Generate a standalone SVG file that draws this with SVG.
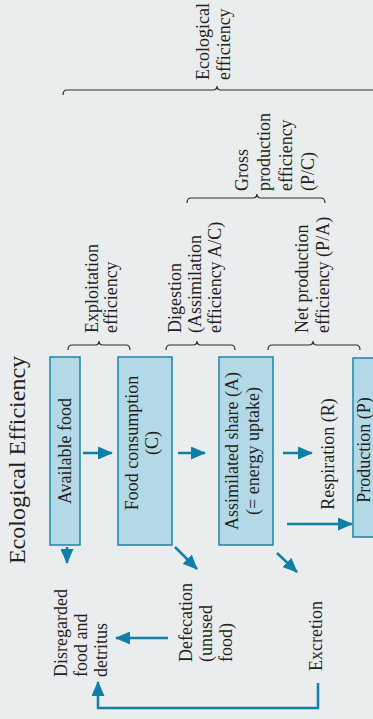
<svg xmlns="http://www.w3.org/2000/svg" width="373" height="719" viewBox="0 0 373 719">
<defs>
<style>
.t{font-family:"Liberation Serif","Times New Roman",serif;font-size:18px;fill:#231f20}
.title{font-family:"Liberation Serif","Times New Roman",serif;font-size:24px;fill:#231f20}
.box{fill:#b3d9e7;stroke:#1a86ad;stroke-width:1.5}
.arr{fill:none;stroke:#0f7fa6;stroke-width:2.5}
.br{fill:none;stroke:#2b2b2b;stroke-width:1.2}
</style>
<marker id="ah" markerUnits="userSpaceOnUse" markerWidth="15" markerHeight="13" refX="14" refY="6.5" orient="auto">
<path d="M0,0 L15,6.5 L0,13 z" fill="#0f7fa6"/>
</marker>
</defs>
<rect width="373" height="719" fill="#eaeded"/>
<text class="title" text-anchor="middle" transform="translate(25,460) rotate(-90)">Ecological Efficiency</text>

<g id="braces">
<path class="br" d="M63,95 Q63,90 67,90 L213,90 Q217,90 217,86 Q217,90 221,90 L380,90"/>
<path class="br" d="M187,203 Q187,198 191,198 L253,198 Q257,198 257,194 Q257,198 261,198 L321,198 Q325,198 325,203"/>
<path class="br" d="M68,350 Q68,345 72,345 L95,345 Q99,345 99,341 Q99,345 103,345 L126,345 Q130,345 130,350"/>
<path class="br" d="M166,350 Q166,345 170,345 L193,345 Q197,345 197,341 Q197,345 201,345 L231,345 Q235,345 235,350"/>
<path class="br" d="M268,350 Q268,345 272,345 L309,345 Q313,345 313,341 Q313,345 317,345 L356,345 Q360,345 360,350"/>
</g>

<g id="labels">
<text class="t" transform="translate(209,80) rotate(-90)">Ecological</text>
<text class="t" transform="translate(230,80) rotate(-90)">efficiency</text>
<text class="t" transform="translate(248,191) rotate(-90)">Gross</text>
<text class="t" transform="translate(270,191) rotate(-90)">production</text>
<text class="t" transform="translate(292,191) rotate(-90)">efficiency</text>
<text class="t" transform="translate(314,191) rotate(-90)">(P/C)</text>
<text class="t" transform="translate(98,333) rotate(-90)">Exploitation</text>
<text class="t" transform="translate(117,333) rotate(-90)">efficiency</text>
<text class="t" transform="translate(181,333) rotate(-90)">Digestion</text>
<text class="t" transform="translate(201,333) rotate(-90)">(Assimilation</text>
<text class="t" transform="translate(221,333) rotate(-90)">efficiency A/C)</text>
<text class="t" transform="translate(308,333) rotate(-90)">Net production</text>
<text class="t" transform="translate(329,333) rotate(-90)">efficiency (P/A)</text>
</g>

<g id="available-food">
<rect class="box" x="50" y="357" width="30" height="188"/>
<text class="t" text-anchor="middle" transform="translate(71,451) rotate(-90)">Available food</text>
</g>
<g id="food-consumption">
<rect class="box" x="118" y="357" width="54" height="188"/>
<text class="t" text-anchor="middle" transform="translate(138,443) rotate(-90)">Food consumption</text>
<text class="t" text-anchor="middle" transform="translate(158,443) rotate(-90)">(C)</text>
</g>
<g id="assimilated-share">
<rect class="box" x="219" y="357" width="54" height="188"/>
<text class="t" text-anchor="middle" transform="translate(238,451) rotate(-90)">Assimilated share (A)</text>
<text class="t" text-anchor="middle" transform="translate(259,451) rotate(-90)">(= energy uptake)</text>
</g>
<g id="production">
<rect class="box" x="353" y="358" width="30" height="179"/>
<text class="t" text-anchor="middle" transform="translate(370,450) rotate(-90)">Production (P)</text>
</g>
<g id="respiration">
<text class="t" text-anchor="middle" transform="translate(334,454) rotate(-90)">Respiration (R)</text>
</g>
<g id="disregarded">
<text class="t" transform="translate(67,677) rotate(-90)">Disregarded</text>
<text class="t" transform="translate(87,677) rotate(-90)">food and</text>
<text class="t" transform="translate(107,677) rotate(-90)">detritus</text>
</g>
<g id="defecation">
<text class="t" transform="translate(192,662) rotate(-90)">Defecation</text>
<text class="t" transform="translate(212,662) rotate(-90)">(unused</text>
<text class="t" transform="translate(232,662) rotate(-90)">food)</text>
</g>
<g id="excretion">
<text class="t" transform="translate(322,671) rotate(-90)">Excretion</text>
</g>

<g id="connectors">
<path class="arr" d="M83,453 L112,453" marker-end="url(#ah)"/>
<path class="arr" d="M178,453 L205,453" marker-end="url(#ah)"/>
<path class="arr" d="M283,453 L312,453" marker-end="url(#ah)"/>
<path class="arr" d="M287,524 L352,524" marker-end="url(#ah)"/>
<path class="arr" d="M67,547 L67,563" marker-end="url(#ah)"/>
<path class="arr" d="M175,547 L197,569" marker-end="url(#ah)"/>
<path class="arr" d="M277,553 L297,572" marker-end="url(#ah)"/>
<path class="arr" d="M168,638 L116,638" marker-end="url(#ah)"/>
<path class="arr" d="M318,683 L318,708 L98,708 L98,682" marker-end="url(#ah)"/>
</g>
</svg>
